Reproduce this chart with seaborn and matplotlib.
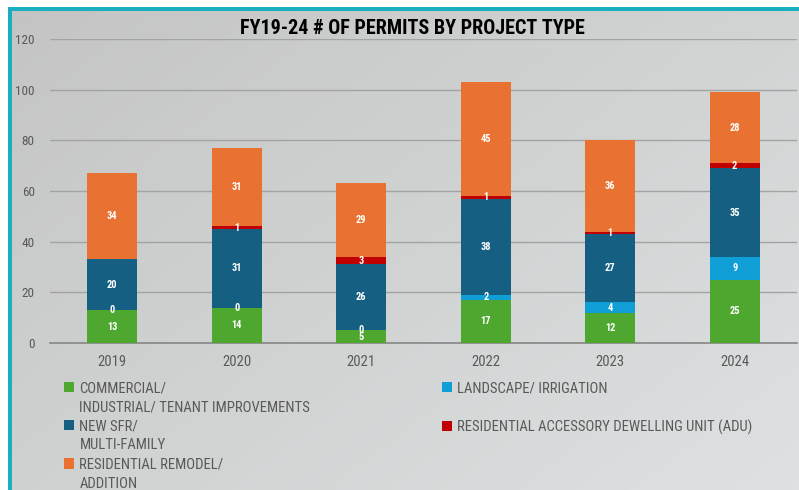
import numpy as np
import pandas as pd
import matplotlib
matplotlib.use("Agg")
import matplotlib.pyplot as plt
import seaborn as sns
from matplotlib.patches import Patch, Rectangle

# =============================================
# data
years = ["2019", "2020", "2021", "2022", "2023", "2024"]
commercial = [13, 14, 5, 17, 12, 25]
landscape = [0, 0, 0, 2, 4, 9]
new_sfr = [20, 31, 26, 38, 27, 35]
adu = [np.nan, 1, 3, 1, 1, 2]
remodel = [34, 31, 29, 45, 36, 28]

series_names = [["COMMERCIAL/", "INDUSTRIAL/ TENANT IMPROVEMENTS"],
                ["LANDSCAPE/ IRRIGATION"],
                ["NEW SFR/", "MULTI-FAMILY"],
                ["RESIDENTIAL ACCESSORY DEWELLING UNIT (ADU)"],
                ["RESIDENTIAL REMODEL/", "ADDITION"]]
series_colors = ["#4EA72E", "#0F9ED5", "#156082", "#C00000", "#E97132"]
title = "FY19-24 # OF PERMITS BY PROJECT TYPE"

# =============================================
# plotting parameters
sns.set_theme(style="white")
plt.rcParams['font.family'] = ['Roboto Condensed', 'Liberation Sans', 'DejaVu Sans']
label_color = "#595959"

df = pd.DataFrame({'year': years, 'commercial': commercial, 'landscape': landscape,
                   'new_sfr': new_sfr, 'adu': adu, 'remodel': remodel})
cols = ['commercial', 'landscape', 'new_sfr', 'adu', 'remodel']
stack = df[cols].fillna(0).cumsum(axis=1)

fig = plt.figure(figsize=(7.99, 4.90), dpi=100)
fig.patch.set_facecolor("white")

# background panel with soft diagonal gradient
bg = fig.add_axes([12 / 799, 0, 1 - 12 / 799, 1 - 11 / 490], zorder=-2)
gx, gy = np.meshgrid(np.linspace(0, 1, 400), np.linspace(0, 1, 250))
diag = 0.55 * gx + 0.45 * gy
bands = np.floor(diag * 5) / 5 * 0.08
grad = np.clip(diag * 0.92 + bands, 0, 1)
c0 = np.array([0.77, 0.77, 0.77])
c1 = np.array([0.87, 0.885, 0.885])
img = c0[None, None, :] + grad[..., None] * (c1 - c0)[None, None, :]
bg.imshow(img, aspect='auto', origin='upper', extent=[0, 1, 0, 1])
bg.set_axis_off()
# teal frame (top and left)
fig.patches.append(Rectangle((8 / 799, 1 - 11 / 490), 1, 4 / 490, transform=fig.transFigure,
                             facecolor="#1BADC0", edgecolor='none', zorder=-1))
fig.patches.append(Rectangle((8 / 799, 0), 4 / 799, 1 - 7 / 490, transform=fig.transFigure,
                             facecolor="#1BADC0", edgecolor='none', zorder=-1))

ax = fig.add_axes([50 / 799, 1 - 343 / 490, 747 / 799, 304 / 490])
ax.patch.set_alpha(0)

# stacked bars: draw cumulative totals from the top series down
for i in reversed(range(len(cols))):
    sns.barplot(x=df['year'], y=stack[cols[i]], color=series_colors[i], width=0.4,
                saturation=1, errorbar=None, linewidth=0, ax=ax, zorder=3)

# data labels
for i, c in enumerate(cols):
    bottoms = stack[cols[i - 1]] if i > 0 else pd.Series(0, index=df.index)
    for j, v in enumerate(df[c]):
        if pd.isna(v):
            continue
        ax.text(j, bottoms[j] + v / 2, f"{int(v)}", ha='center', va='center',
                color='white', fontsize=7.5, fontweight='bold', zorder=5)

# aesthetics
ax.set(ylim=[0, 120], xlim=[-0.5, 5.5], xlabel=None, ylabel=None)
ax.set_yticks(range(0, 121, 20))
ax.yaxis.grid(True, color="#a3a3a3", linewidth=1)
ax.set_axisbelow(True)
for s in ['top', 'right', 'left']:
    ax.spines[s].set_visible(False)
ax.spines['bottom'].set_color("#8c8c8c")
ax.spines['bottom'].set_linewidth(1.3)
ax.tick_params(axis='y', labelsize=9.5, colors=label_color, length=0, pad=11)
ax.tick_params(axis='x', labelsize=10.5, colors=label_color, length=0, pad=9)

fig.text(412 / 799, 1 - 28 / 490, title, ha='center', va='center', fontsize=14.5,
         fontweight='bold', color='black')

# legend in two columns, one row per text line, marker on the first line
blank = Patch(facecolor='none', edgecolor='none')


def legend_rows(idx, n_rows):
    hs, ls = [], []
    for i in idx:
        for k, line in enumerate(series_names[i]):
            hs.append(Patch(facecolor=series_colors[i], edgecolor='none') if k == 0 else blank)
            ls.append(line)
        if len(series_names[i]) == 1:
            hs.append(blank)
            ls.append(" ")
    return hs[:n_rows], ls[:n_rows]


leg_kw = dict(frameon=False, fontsize=10.6, labelcolor=label_color, handlelength=0.7,
              handleheight=0.7, handletextpad=0.35, labelspacing=0.35,
              loc='upper left', borderaxespad=0, borderpad=0)
h1, l1 = legend_rows([0, 2, 4], 6)
h2, l2 = legend_rows([1, 3], 4)
fig.legend(h1, l1, bbox_to_anchor=(64 / 799, 1 - 381 / 490), **leg_kw)
fig.legend(h2, l2, bbox_to_anchor=(442 / 799, 1 - 381 / 490), **leg_kw)

plt.savefig("out.png", dpi=100)
